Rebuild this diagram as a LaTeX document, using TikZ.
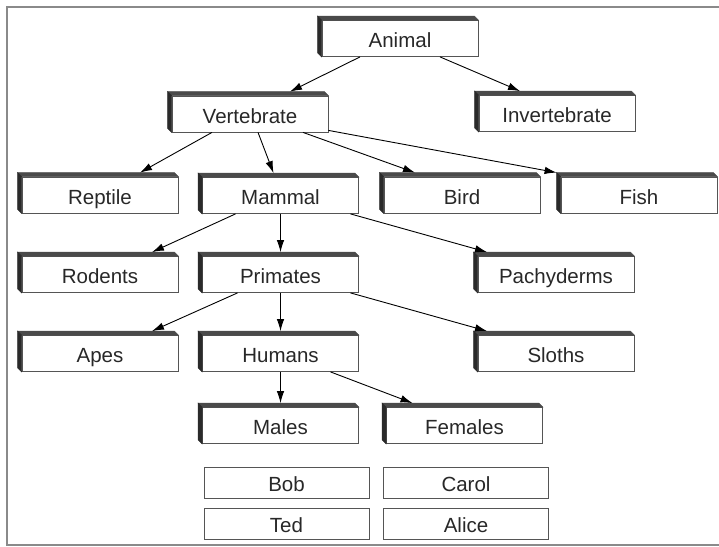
\documentclass[tikz,border=0pt]{standalone}
\usepackage{fontspec}
\setmainfont{Liberation Sans}
\usetikzlibrary{arrows.meta}
\definecolor{boxline}{HTML}{555555}
\definecolor{facetop}{HTML}{4A4A4A}
\definecolor{faceside}{HTML}{2A2A2A}
\definecolor{framegray}{HTML}{8A8A8A}
\definecolor{textgray}{HTML}{282828}

\begin{document}
\begin{tikzpicture}[x=1pt,y=1pt,>={Latex[length=12pt,width=7.5pt]},line width=0.9pt,
    kind/.style={draw=boxline,line width=0.8pt,fill=white,minimum width=156pt,minimum height=36pt,inner sep=0pt,text height=18pt,text depth=0pt,text=textgray,font=\fontsize{20.5}{24}\selectfont},
    member/.style={draw=boxline,line width=0.8pt,fill=white,minimum width=165pt,minimum height=31pt,inner sep=0pt,text height=17pt,text depth=0pt,text=textgray,font=\fontsize{20.5}{24}\selectfont},
    topface/.style={fill=facetop,draw=facetop,line width=0.4pt},
    sideface/.style={fill=faceside,draw=faceside,line width=0.4pt}]

    \useasboundingbox (0,0) rectangle (719,-546);
    \draw[framegray,line width=2pt] (719,-7) -- (7,-7) -- (7,-545) -- (719,-545);

    \node[kind] (animal) at (400,-38.5) {Animal};
    \node[kind] (vert) at (250,-114) {Vertebrate};
    \node[kind] (invert) at (557,-113.5) {Invertebrate};
    \node[kind] (reptile) at (100,-195) {Reptile};
    \node[kind] (mammal) at (280.5,-195.5) {Mammal};
    \node[kind] (bird) at (462,-195) {Bird};
    \node[kind] (fish) at (639,-195) {Fish};
    \node[kind] (rodents) at (100,-274.5) {Rodents};
    \node[kind] (primates) at (280.5,-274.5) {Primates};
    \node[kind] (pachy) at (556,-274.5) {Pachyderms};
    \node[kind] (apes) at (100,-353.5) {Apes};
    \node[kind] (humans) at (280.5,-353.5) {Humans};
    \node[kind] (sloths) at (556,-353.5) {Sloths};
    \node[kind] (males) at (280.5,-425.5) {Males};
    \node[kind] (females) at (464.5,-425.5) {Females};

    \node[member] (bob) at (286.5,-482.5) {Bob};
    \node[member] (carol) at (466,-482.5) {Carol};
    \node[member] (ted) at (286.5,-524) {Ted};
    \node[member] (alice) at (466,-524) {Alice};

    % raised edges of the class boxes
    \foreach \n in {animal,vert,invert,reptile,mammal,bird,fish,rodents,primates,pachy,apes,humans,sloths,males,females}{
        \filldraw[topface] (\n.north west) -- ++(-4,4) -- ([shift={(-4,4)}]\n.north east) -- (\n.north east) -- cycle;
        \filldraw[sideface] (\n.north west) -- ++(-4,4) -- ([shift={(-4,4)}]\n.south west) -- (\n.south west) -- cycle;
    }

    \draw[->] ([xshift=-40]animal.south) -- ([xshift=40,yshift=4]vert.north);
    \draw[->] ([xshift=40]animal.south) -- ([xshift=-37,yshift=4]invert.north);

    \draw[->] ([xshift=-38]vert.south) -- ([xshift=40,yshift=4]reptile.north);
    \draw[->] ([xshift=8]vert.south) -- ([xshift=-7,yshift=4]mammal.north);
    \draw[->] ([xshift=53]vert.south) -- ([xshift=-47,yshift=4]bird.north);
    \draw[->] ([yshift=2]vert.south east) -- ([shift={(-4,4)}]fish.north west);

    \draw[->] ([xshift=-45]mammal.south) -- ([xshift=52,yshift=4]rodents.north);
    \draw[->] (mammal.south) -- ([yshift=4]primates.north);
    \draw[->] ([xshift=70]mammal.south) -- ([xshift=-69,yshift=4]pachy.north);

    \draw[->] ([xshift=-43]primates.south) -- ([xshift=52,yshift=4]apes.north);
    \draw[->] (primates.south) -- ([yshift=4]humans.north);
    \draw[->] ([xshift=70]primates.south) -- ([xshift=-69,yshift=4]sloths.north);

    \draw[->] (humans.south) -- ([yshift=4]males.north);
    \draw[->] ([xshift=50]humans.south) -- ([xshift=-52,yshift=4]females.north);
\end{tikzpicture}
\end{document}
